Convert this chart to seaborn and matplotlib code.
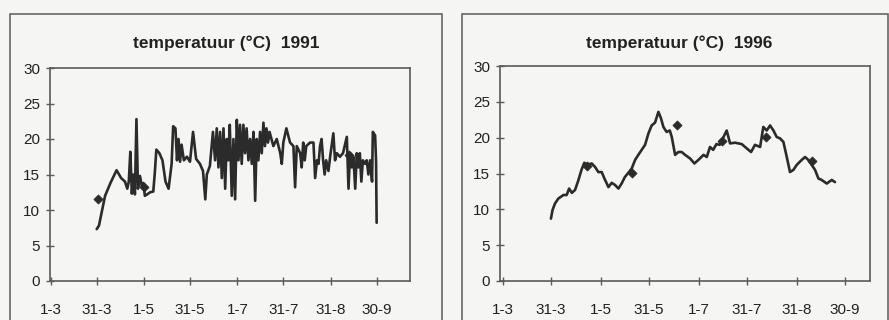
import matplotlib
matplotlib.use("Agg")
import matplotlib.pyplot as plt
import seaborn as sns
import pandas as pd
from matplotlib.patches import Rectangle

# ---------------- data ----------------
tick_days = [0, 30, 61, 91, 122, 152, 183, 213]
tick_labels = ["1-3", "31-3", "1-5", "31-5", "1-7", "31-7", "31-8", "30-9"]
y_ticks = [0, 5, 10, 15, 20, 25, 30]

days_1991 = [30, 31.5, 35.5, 39, 43, 46, 48.5, 50, 51, 52, 53, 54, 55, 56, 57, 58.3, 59.5,
             60.5, 61.5, 63, 65, 67, 68, 69, 71, 73, 75, 77, 79, 80, 81.5, 82.5, 83.5, 84.5,
             85.5, 87, 89, 91, 93, 95, 97.5, 99.5, 101, 102, 104, 106, 107.4, 108.5, 109.6,
             110.7, 111.8, 112.9, 114, 115, 116, 117, 118.3, 119.4, 120.5, 121.6, 122.7,
             123.7, 124.8, 125.9, 127, 128, 129.2, 130.3, 131.4, 132.5, 133.6, 134.6, 135.7,
             136.8, 137.9, 139, 140, 141, 142, 143, 145.5, 147.7, 150, 151, 152, 154, 156.4,
             158.6, 159.7, 160.8, 163, 164, 165, 166, 167, 169.5, 171.7, 172.8, 174, 175,
             176, 177, 178, 179, 180, 181.5, 182.6, 184.7, 185.8, 187, 189, 191, 193.5,
             194.6, 195.6, 196.7, 197.8, 199, 200, 201, 202, 203, 204, 205.4, 206.5, 207.6,
             208.7, 210, 210.5, 212, 212.6, 213]
temp_1991 = [7.3, 7.8, 12.0, 13.8, 15.6, 14.5, 14.0, 13.0, 14.0, 18.2, 12.3, 15.0, 12.2, 22.8,
             13.0, 14.8, 13.4, 13.8, 12.0, 12.2, 12.5, 12.6, 15.2, 18.5, 18.0, 17.0, 14.0,
             13.0, 16.5, 21.8, 21.5, 17.0, 20.0, 16.8, 19.2, 17.0, 17.5, 16.8, 21.0, 17.2,
             16.5, 15.5, 11.5, 15.0, 16.2, 21.0, 17.0, 21.5, 16.0, 21.0, 14.5, 21.5, 13.0,
             20.0, 17.0, 22.0, 12.0, 20.0, 11.5, 22.7, 17.0, 22.0, 16.5, 22.0, 18.0, 21.5,
             17.0, 20.0, 16.5, 21.0, 11.3, 20.0, 17.0, 21.0, 18.0, 22.3, 19.0, 21.5, 19.5,
             21.0, 19.0, 20.0, 18.0, 16.5, 19.5, 21.5, 19.5, 19.0, 13.2, 19.0, 18.0, 16.0,
             19.5, 17.0, 19.0, 19.5, 19.5, 14.5, 17.0, 16.5, 19.0, 20.0, 17.0, 15.0, 17.0,
             15.5, 17.5, 20.8, 17.0, 18.0, 17.5, 18.0, 20.3, 13.0, 18.0, 16.0, 17.5, 13.0,
             18.0, 16.0, 18.0, 14.0, 17.0, 16.5, 17.0, 15.0, 17.0, 14.0, 21.0, 20.5, 17.0, 8.2]
mark_days_1991 = [31, 61, 195]
mark_temp_1991 = [11.6, 13.3, 17.7]

days_1996 = [30, 31, 32.5, 34.6, 37.8, 39.8, 41.3, 43, 45, 47, 49, 50.8, 52.3, 55.4, 57.5, 59.5,
             61.6, 63.3, 65.8, 67.8, 69.9, 72, 74, 76, 78.2, 80.3, 82.4, 84.4, 86.5, 88.6,
             90.7, 92.7, 94.8, 96.9, 98.5, 100, 102, 104, 105.2, 107.3, 109.3, 111.4, 113.5,
             116.6, 119.3, 121.8, 125, 127, 129, 131, 133, 135, 137, 139.4, 141.5, 144.6,
             148.8, 151.9, 154.6, 157, 160.2, 162.2, 164.3, 166.4, 168.5, 170.5, 172.6,
             174.7, 176.8, 178.8, 180.9, 183, 186.1, 188.2, 190.2, 192.3, 194.4, 196.5,
             198.5, 201.7, 204.8, 206.8]
temp_1996 = [8.7, 9.9, 10.8, 11.5, 12.0, 12.0, 12.9, 12.3, 12.7, 14.0, 15.5, 16.5, 16.2, 16.4,
             15.9, 15.2, 15.2, 14.3, 13.1, 13.7, 13.4, 12.9, 13.6, 14.5, 15.1, 15.7, 16.9,
             17.6, 18.3, 19.0, 20.6, 21.7, 22.1, 23.6, 22.7, 21.5, 20.8, 21.0, 20.1, 17.6,
             18.0, 18.0, 17.6, 17.1, 16.4, 16.9, 17.6, 17.3, 18.7, 18.3, 19.1, 19.0, 19.9,
             21.0, 19.2, 19.3, 19.1, 18.5, 18.0, 19.0, 18.7, 21.5, 21.0, 21.7, 21.0, 20.1,
             19.9, 19.4, 17.3, 15.2, 15.5, 16.2, 16.9, 17.3, 16.9, 16.2, 15.5, 14.3, 14.1,
             13.6, 14.1, 13.8]
mark_days_1996 = [52.3, 80.3, 108.3, 136.3, 163.7, 192.3]
mark_temp_1996 = [16.0, 15.1, 21.8, 19.6, 20.1, 16.8]

titles = ["temperatuur (°C)  1991", "temperatuur (°C)  1996"]

# ---------------- style ----------------
sns.set_theme(style="white")
plt.rcParams["font.family"] = ["Liberation Sans", "DejaVu Sans"]

BG = "#f5f5f3"
INK = "#2b2b2b"
EDGE = "#5a5a5a"

fig = plt.figure(figsize=(8.89, 3.2), dpi=100, facecolor=BG)

# outer chart-area frames
fig.patches.append(Rectangle((10 / 889, -0.1), 432 / 889, 1.0 - 14 / 320 + 0.1,
                             transform=fig.transFigure, fill=False,
                             edgecolor=EDGE, linewidth=1.1, zorder=0))
fig.patches.append(Rectangle((462 / 889, -0.1), 426 / 889, 1.0 - 14 / 320 + 0.1,
                             transform=fig.transFigure, fill=False,
                             edgecolor=EDGE, linewidth=1.1, zorder=0))

ax1 = fig.add_axes([50 / 889, 1 - 281 / 320, 360 / 889, 213 / 320])
ax2 = fig.add_axes([500 / 889, 1 - 281 / 320, 370 / 889, 215 / 320])

panels = [
    (ax1, days_1991, temp_1991, mark_days_1991, mark_temp_1991, (-0.5, 234.8), 226, titles[0]),
    (ax2, days_1996, temp_1996, mark_days_1996, mark_temp_1996, (-1.7, 228.6), 679, titles[1]),
]

for ax, d, t, md, mt, xl, tx, title in panels:
    ax.set_facecolor(BG)
    line_df = pd.DataFrame({"dag": d, "temp": t})
    mark_df = pd.DataFrame({"dag": md, "temp": mt})
    sns.lineplot(data=line_df, x="dag", y="temp", ax=ax, color=INK, linewidth=1.9,
                 estimator=None, sort=False)
    sns.scatterplot(data=mark_df, x="dag", y="temp", ax=ax, color=INK, marker="D",
                    s=22, edgecolor=INK, linewidth=0.5, zorder=5)
    ax.set_xlim(*xl)
    ax.set_ylim(0, 30)
    ax.set_xticks(tick_days)
    ax.set_xticklabels(tick_labels)
    ax.set_yticks(y_ticks)
    ax.set_xlabel("")
    ax.set_ylabel("")
    for s in ax.spines.values():
        s.set_visible(True)
        s.set_color(EDGE)
        s.set_linewidth(1.2)
    ax.tick_params(axis="both", direction="inout", length=6, width=1.0, color=EDGE,
                   labelsize=11, labelcolor="#222222", bottom=True, left=True)
    ax.tick_params(axis="x", pad=13)
    ax.tick_params(axis="y", pad=4)
    fig.text(tx / 889, 1 - 43 / 320, title, ha="center", va="center",
             fontsize=12.5, fontweight="bold", color="#222222")

fig.savefig("out.png", dpi=100, facecolor=BG)
